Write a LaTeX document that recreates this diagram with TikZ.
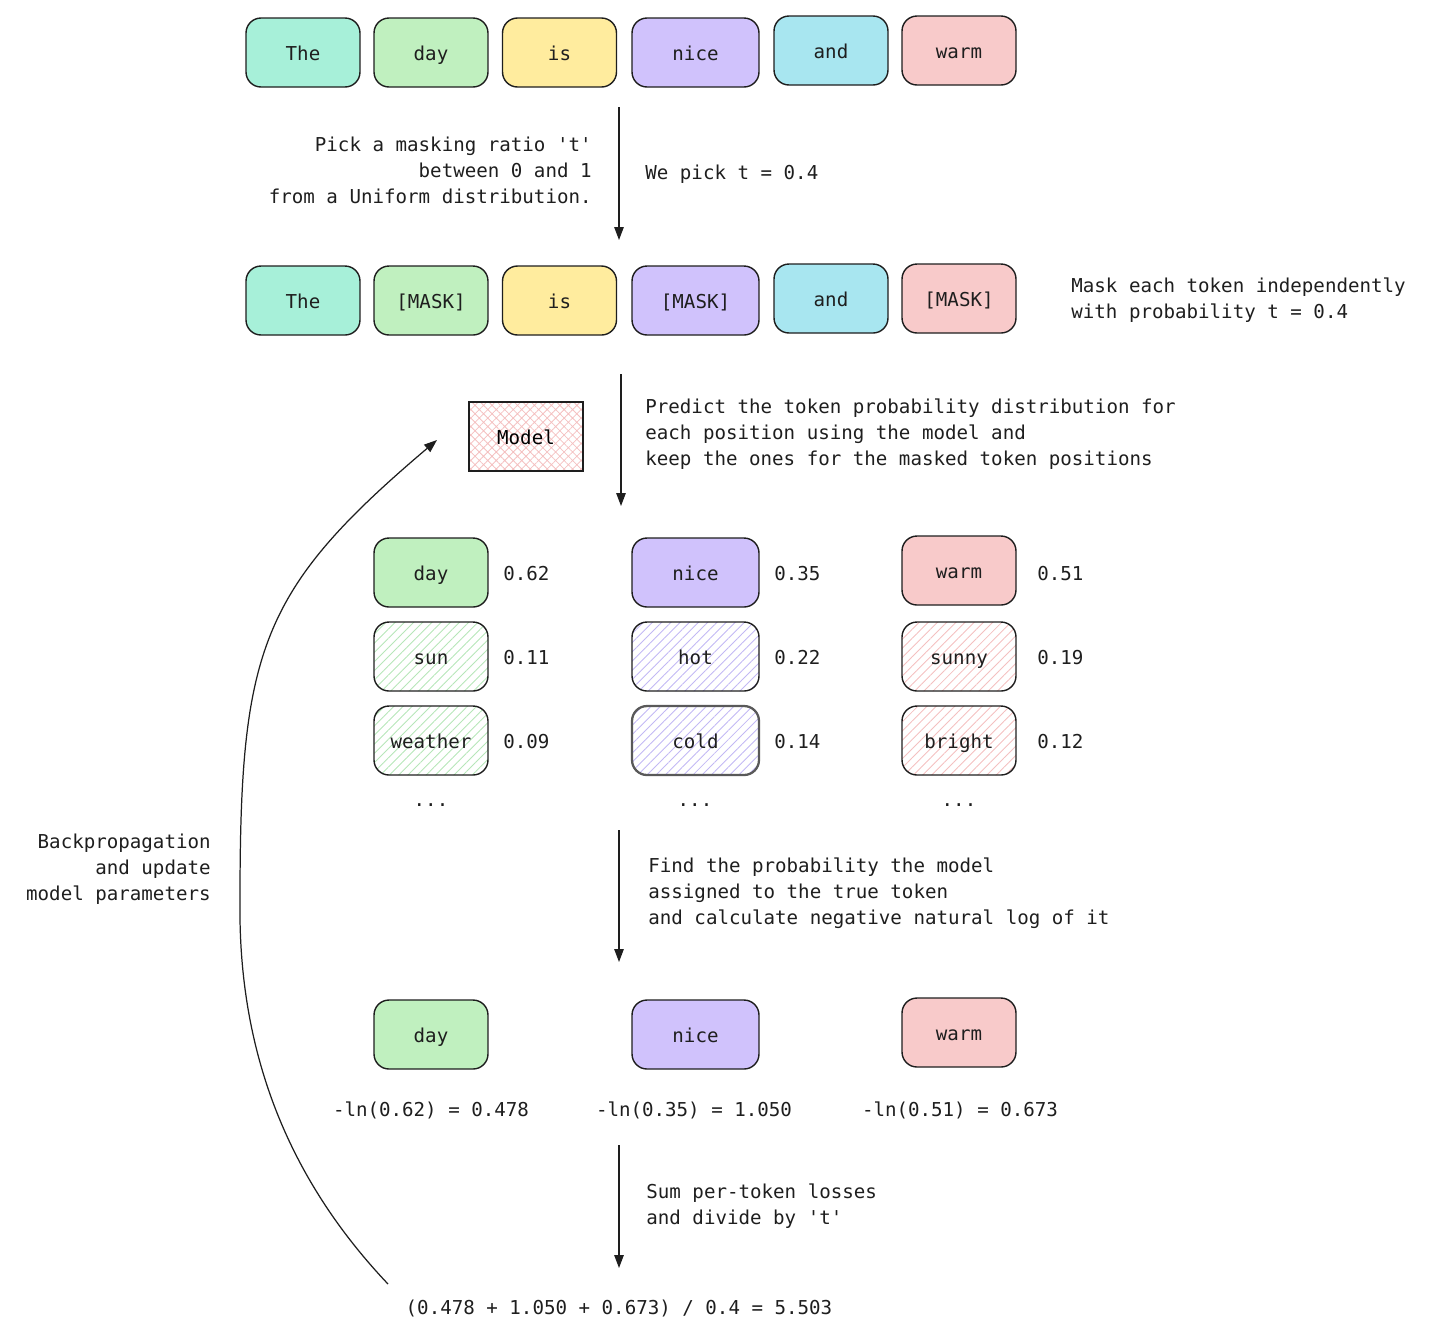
\documentclass[tikz,border=0pt]{standalone}
\usepackage{fontspec}
\setmonofont{DejaVu Sans Mono}
\usetikzlibrary{arrows.meta,patterns.meta,positioning}
\definecolor{ink}{HTML}{1E1E1E}
\definecolor{cteal}{HTML}{A7F0D9}
\definecolor{cgreen}{HTML}{C0F0BF}
\definecolor{cyellow}{HTML}{FFEC9E}
\definecolor{cviolet}{HTML}{D0C2FC}
\definecolor{ccyan}{HTML}{A8E6F0}
\definecolor{cred}{HTML}{F8CACA}
\definecolor{hgreen}{HTML}{B6E6B8}
\definecolor{hviolet}{HTML}{C2B8F4}
\definecolor{hred}{HTML}{F4C0C0}
\tikzset{
  tok/.style={ draw=ink, line width=0.8pt, rounded corners=0.3cm, minimum width=2.28cm, minimum height=1.38cm, inner sep=0pt, text=ink, text height=0.32cm, text depth=0pt }
}
\tikzset{
  tokW/.style={ tok, minimum width=2.54cm }
}
\tikzset{
  tokH/.style={ tok, pattern={Lines[angle=45, distance=0.13cm, line width=0.5pt]}, pattern color=#1 }
}
\tikzset{
  tokHW/.style={ tokW, pattern={Lines[angle=45, distance=0.13cm, line width=0.5pt]}, pattern color=#1 }
}
\tikzset{
  note/.style={ inner sep=0pt, text=ink }
}
\tikzset{
  val/.style={ note, text height=0.32cm, text depth=0pt }
}
\tikzset{
  flow/.style={ draw=ink, line width=0.7pt, -{Triangle[length=0.26cm, width=0.19cm]} }
}

\begin{document}
\begin{tikzpicture}[x=0.02cm, y=-0.02cm, font=\ttfamily\fontsize{10.9}{14.8}\selectfont]
      \useasboundingbox (0,0) rectangle (1446,1330);

      % input sentence
      \node[tok, fill=cteal] (the1) at (303, 52.5) {The};
      \node[tok, fill=cgreen] (day1) at (431, 52.5) {day};
      \node[tok, fill=cyellow] (is1) at (559.5, 52.5) {is};
      \node[tokW, fill=cviolet] (nice1) at (695.5, 52.5) {nice};
      \node[tok, fill=ccyan] (and1) at (831, 50.5) {and};
      \node[tok, fill=cred] (warm1) at (959, 50.5) {warm};

      \coordinate (a1s) at (619, 107);
      \coordinate (a1e) at (619, 240);
      \node[note, anchor=east, align=right] (pick) at (592, 170) {Pick a masking ratio 't'\\between 0 and 1\hspace*{0.6em}\\from a Uniform distribution.};
      \node[val, anchor=west] (tval) at (645, 171) {We pick t = 0.4};

      % masked sentence
      \node[tok, fill=cteal] (the2) at (303, 300.5) {The};
      \node[tok, fill=cgreen] (day2) at (431, 300.5) {[MASK]};
      \node[tok, fill=cyellow] (is2) at (559.5, 300.5) {is};
      \node[tokW, fill=cviolet] (nice2) at (695.5, 300.5) {[MASK]};
      \node[tok, fill=ccyan] (and2) at (831, 298.5) {and};
      \node[tok, fill=cred] (warm2) at (959, 298.5) {[MASK]};
      \node[note, anchor=west, align=left] (mask) at (1071, 300) {Mask each token independently\\with probability t = 0.4};

      \coordinate (a2s) at (621, 374);
      \coordinate (a2e) at (621, 506);
      \node[draw=ink, line width=0.8pt, pattern={Hatch[angle=45, distance=0.12cm, line width=0.45pt]}, pattern color=hred, minimum width=2.28cm, minimum height=1.38cm, inner sep=0pt, text height=0.32cm, text depth=0pt] (model) at (526, 436.5) {Model};
      \node[note, anchor=west, align=left] (pred) at (645, 434) {Predict the token probability distribution for\\each position using the model and\\keep the ones for the masked token positions};

      % predictions
      \node[tok, fill=cgreen] (p11) at (431, 572.5) {day};
      \node[tokH=hgreen] (p12) at (431, 656.5) {sun};
      \node[tokH=hgreen] (p13) at (431, 740.5) {weather};
      \node[tokW, fill=cviolet] (p21) at (695.5, 572.5) {nice};
      \node[tokHW=hviolet] (p22) at (695.5, 656.5) {hot};
      \node[tokHW=hviolet, draw=black!65, line width=1.3pt] (p23) at (695.5, 740.5) {cold};
      \node[tok, fill=cred] (p31) at (959, 570.5) {warm};
      \node[tokH=hred] (p32) at (959, 656.5) {sunny};
      \node[tokH=hred] (p33) at (959, 740.5) {bright};

      \node[val, anchor=west] (v11) at (503, 572.5) {0.62};
      \node[val, anchor=west] (v12) at (503, 656.5) {0.11};
      \node[val, anchor=west] (v13) at (503, 740.5) {0.09};
      \node[val, anchor=west] (v21) at (774, 572.5) {0.35};
      \node[val, anchor=west] (v22) at (774, 656.5) {0.22};
      \node[val, anchor=west] (v23) at (774, 740.5) {0.14};
      \node[val, anchor=west] (v31) at (1037, 572.5) {0.51};
      \node[val, anchor=west] (v32) at (1037, 656.5) {0.19};
      \node[val, anchor=west] (v33) at (1037, 740.5) {0.12};

      \node[note] (dots1) at (431, 805) {...};
      \node[note] (dots2) at (695, 805) {...};
      \node[note] (dots3) at (959, 805) {...};

      \coordinate (a3s) at (619, 830);
      \coordinate (a3e) at (619, 962);
      \node[note, anchor=west, align=left] (find) at (648, 893) {Find the probability the model\\assigned to the true token\\and calculate negative natural log of it};

      % per-token losses
      \node[tok, fill=cgreen] (l1) at (431, 1034.5) {day};
      \node[tokW, fill=cviolet] (l2) at (695.5, 1034.5) {nice};
      \node[tok, fill=cred] (l3) at (959, 1032.5) {warm};
      \node[val] (ln1) at (431, 1108) {-ln(0.62) = 0.478};
      \node[val] (ln2) at (694, 1108) {-ln(0.35) = 1.050};
      \node[val] (ln3) at (960, 1108) {-ln(0.51) = 0.673};

      \coordinate (a4s) at (619, 1145);
      \coordinate (a4e) at (619, 1268);
      \node[note, anchor=west, align=left] (sum) at (646, 1206) {Sum per-token losses\\and divide by 't'};
      \node[val] (total) at (619, 1306) {(0.478 + 1.050 + 0.673) / 0.4 = 5.503};

      % backpropagation
      \coordinate (bps) at (388, 1284);
      \coordinate (bpm) at (240, 900);
      \coordinate (bpe) at (437, 440);
      \node[note, anchor=east, align=right] (back) at (211, 869) {Backpropagation\\and update\\model parameters};

      \begin{scope}[flow]
        \draw (a1s) -- (a1e);
        \draw (a2s) -- (a2e);
        \draw (a3s) -- (a3e);
        \draw (a4s) -- (a4e);
        \draw (bps) .. controls (280, 1170) and (238, 1040) .. (bpm) .. controls (240, 650) and (260, 590) .. (bpe);
      \end{scope}
    \end{tikzpicture}
\end{document}
